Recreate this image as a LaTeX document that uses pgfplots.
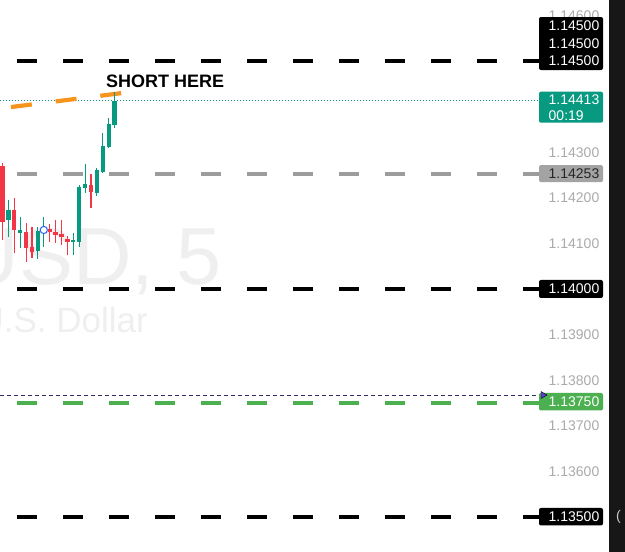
\documentclass[border=0pt]{standalone}
\usepackage{pgfplots}
\pgfplotsset{compat=1.18}
\usepackage{pgfplotstable}
\usepackage{fontspec}
\setmainfont{Liberation Sans}
\definecolor{tvred}{HTML}{F23645}
\definecolor{tvgreen}{HTML}{089981}
\definecolor{lblgreen}{HTML}{4CAF50}
\definecolor{lblgray}{HTML}{A3A3A3}
\definecolor{dashgray}{HTML}{9C9C9C}
\definecolor{ticktxt}{HTML}{ABABAB}
\definecolor{wm}{HTML}{EFEFEF}
\definecolor{orng}{HTML}{F7941D}
\definecolor{navyd}{HTML}{2E2E66}
\definecolor{purp}{HTML}{5B3FD4}
\definecolor{tvblue}{HTML}{2962FF}
\definecolor{panel}{HTML}{171717}
\tikzset{lbl/.style={anchor=west, inner sep=0pt, font=\fontsize{14}{16}\selectfont}}
\pgfplotsset{candle/.style={draw=none, no markers, error bars/.cd, y dir=minus, y explicit, error mark=none}}

% red (bearish) candles: x-position, open, high, low, close
\pgfplotstableread{
x o h l c
2.5 1.14270 1.14276 1.14107 1.14147
14.3 1.14173 1.14200 1.14079 1.14129
26.1 1.14125 1.14145 1.14059 1.14090
32.0 1.14092 1.14136 1.14068 1.14081
49.7 1.14132 1.14143 1.14103 1.14125
55.6 1.14125 1.14151 1.14101 1.14118
61.5 1.14121 1.14151 1.14096 1.14114
67.4 1.14110 1.14116 1.14075 1.14103
91.0 1.14228 1.14252 1.14178 1.14213
}\redc
% green (bullish) candles
\pgfplotstableread{
x o h l c
8.4 1.14151 1.14195 1.14114 1.14173
20.2 1.14123 1.14158 1.14090 1.14129
37.9 1.14083 1.14136 1.14066 1.14127
43.8 1.14125 1.14158 1.14092 1.14132
73.3 1.14103 1.14123 1.14075 1.14107
79.2 1.14103 1.14228 1.14092 1.14224
85.1 1.14222 1.14274 1.14211 1.14230
96.9 1.14211 1.14265 1.14204 1.14261
102.8 1.14257 1.14342 1.14254 1.14314
108.7 1.14311 1.14375 1.14309 1.14362
114.6 1.14360 1.14432 1.14353 1.14413
}\greenc

\begin{document}
\begin{tikzpicture}
\begin{axis}[
  width=625pt, height=552pt, scale only axis,
  xmin=0, xmax=625, ymin=1.134232, ymax=1.146338,
  hide axis, clip=true,
]
\coordinate (SW) at (rel axis cs:0,0);
\coordinate (NE) at (rel axis cs:1,1);
\fill[white] (rel axis cs:0,0) rectangle (rel axis cs:1,1);

% watermark
\node[anchor=base east, inner sep=0pt, text=wm, font=\fontsize{81}{90}\selectfont] at (axis cs:222,1.140088) {EURUSD, 5};
\node[anchor=base east, inner sep=0pt, text=wm, font=\fontsize{35}{40}\selectfont] at (axis cs:148,1.139035) {Euro / U.S. Dollar};

% horizontal levels
\addplot[black, line width=4pt, dash pattern=on 20pt off 26pt] coordinates {(17,1.14500) (539,1.14500)};
\addplot[black, line width=4pt, dash pattern=on 20pt off 26pt] coordinates {(17,1.14000) (539,1.14000)};
\addplot[black, line width=4pt, dash pattern=on 20pt off 26pt] coordinates {(17,1.13500) (539,1.13500)};
\addplot[dashgray, line width=4pt, dash pattern=on 20pt off 26pt] coordinates {(17,1.14253) (539,1.14253)};
\addplot[lblgreen, line width=4pt, dash pattern=on 20pt off 26pt] coordinates {(17,1.13750) (539,1.13750)};
\addplot[navyd, line width=0.8pt, dash pattern=on 4pt off 3pt] coordinates {(0,1.137675) (539,1.137675)};
\addplot[tvgreen, line width=0.9pt, dash pattern=on 1pt off 2pt] coordinates {(0,1.14413) (539,1.14413)};

% orange trend line
\addplot[orng, line width=4.2pt, dash pattern=on 21pt off 24pt] coordinates {(11,1.14399) (123,1.14430)};

% candles: wicks
\addplot[candle, error bar style={line width=1.1pt, draw=tvred}]
  table[x=x, y=h, y error minus expr=\thisrow{h}-\thisrow{l}] {\redc};
\addplot[candle, error bar style={line width=1.1pt, draw=tvgreen}]
  table[x=x, y=h, y error minus expr=\thisrow{h}-\thisrow{l}] {\greenc};
% candles: bodies
\addplot[candle, error bar style={line width=4.3pt, draw=tvred}]
  table[x=x, y=o, y error minus expr=\thisrow{o}-\thisrow{c}] {\redc};
\addplot[candle, error bar style={line width=4.3pt, draw=tvgreen}]
  table[x=x, y=c, y error minus expr=\thisrow{c}-\thisrow{o}] {\greenc};

% event marker
\addplot[only marks, mark=*, mark size=3.6pt, mark options={fill=white, draw=tvblue, line width=1pt}] coordinates {(43.8,1.141294)};

% text
\node[anchor=west, inner sep=0pt, font=\fontsize{18}{20}\selectfont\bfseries] at (axis cs:106,1.144561) {SHORT HERE};

% price scale labels
\node[lbl, text=ticktxt] at (axis cs:548.5,1.14600) {1.14600};
\node[lbl, text=ticktxt] at (axis cs:548.5,1.14300) {1.14300};
\node[lbl, text=ticktxt] at (axis cs:548.5,1.14200) {1.14200};
\node[lbl, text=ticktxt] at (axis cs:548.5,1.14100) {1.14100};
\node[lbl, text=ticktxt] at (axis cs:548.5,1.13900) {1.13900};
\node[lbl, text=ticktxt] at (axis cs:548.5,1.13800) {1.13800};
\node[lbl, text=ticktxt] at (axis cs:548.5,1.13700) {1.13700};
\node[lbl, text=ticktxt] at (axis cs:548.5,1.13600) {1.13600};

% stacked 1.14500 labels
\fill[black, rounded corners=2pt] ([yshift=-9pt]axis cs:539,1.145) rectangle ([yshift=44pt]axis cs:603,1.145);
\node[lbl, text=white] at (axis cs:548.5,1.145) {1.14500};
\node[lbl, text=white] at ([yshift=17.5pt]axis cs:548.5,1.145) {1.14500};
\node[lbl, text=white] at ([yshift=35pt]axis cs:548.5,1.145) {1.14500};

% current price
\fill[tvgreen, rounded corners=2pt] ([yshift=9pt]axis cs:539,1.14413) rectangle ([yshift=-22pt]axis cs:603,1.14413);
\node[lbl, text=white] at ([yshift=0.5pt]axis cs:548.5,1.14413) {1.14413};
\node[lbl, text=white] at ([yshift=-15pt]axis cs:548.5,1.14413) {00:19};

% other level labels
\fill[lblgray, rounded corners=2pt] ([yshift=8.5pt]axis cs:539,1.14253) rectangle ([yshift=-8.5pt]axis cs:603,1.14253);
\node[lbl, text=black!85] at (axis cs:548.5,1.14253) {1.14253};
\fill[black, rounded corners=2pt] ([yshift=9pt]axis cs:539,1.14) rectangle ([yshift=-9pt]axis cs:603,1.14);
\node[lbl, text=white] at (axis cs:548.5,1.14) {1.14000};
\fill[lblgreen, rounded corners=2pt] ([yshift=10pt]axis cs:539,1.1375) rectangle ([yshift=-7.5pt]axis cs:603,1.1375);
\node[lbl, text=white] at ([yshift=1pt]axis cs:548.5,1.1375) {1.13750};
\fill[black, rounded corners=2pt] ([yshift=9pt]axis cs:539,1.135) rectangle ([yshift=-8.5pt]axis cs:603,1.135);
\node[lbl, text=white] at (axis cs:548.5,1.135) {1.13500};

% alert marker
\addplot[only marks, mark=triangle*, mark size=4pt, mark options={rotate=-90, fill=purp, draw=none}] coordinates {(543,1.137675)};

% right dark panel
\fill[panel] (axis cs:609,1.134232) rectangle (axis cs:625,1.146338);
\node[anchor=west, inner sep=0pt, text=white!80!black, font=\fontsize{14}{16}\selectfont] at (axis cs:616,1.135) {(};
\end{axis}
\pgfresetboundingbox
\path[use as bounding box] (SW) rectangle (NE);
\end{tikzpicture}
\end{document}
